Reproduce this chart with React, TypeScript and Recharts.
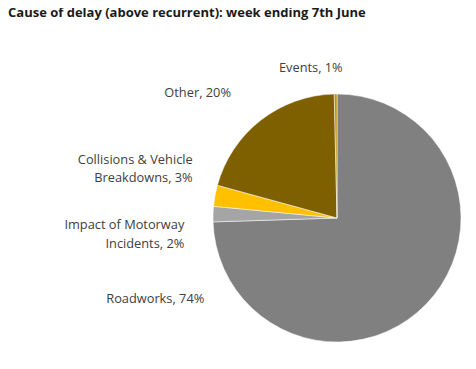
import React from "react";
import { PieChart, Pie, Cell } from "recharts";

const categories = [
  "Roadworks",
  "Impact of Motorway Incidents",
  "Collisions & Vehicle Breakdowns",
  "Other",
  "Events",
];
const shares = [74.5, 2.0, 2.75, 20.4, 0.35];
const displayedPercents = ["74%", "2%", "3%", "20%", "1%"];
const labelLines: string[][] = [
  ["Roadworks, 74%"],
  ["Impact of Motorway", "Incidents, 2%"],
  ["Collisions & Vehicle", "Breakdowns, 3%"],
  ["Other, 20%"],
  ["Events, 1%"],
];

const colors = ["#808080", "#a5a5a5", "#ffc000", "#7f6000", "#bf9000"];
// label anchor offsets (right edge, first baseline) relative to pie centre
const labelOffsets = [
  [-132.7, 84.7],
  [-152.7, 11.3],
  [-144.3, -54],
  [-106, -120.7],
  [5.7, -146],
];

const data = categories.map((name, i) => ({
  name,
  value: shares[i],
  shown: displayedPercents[i],
}));

const FONT = "'Open Sans', sans-serif";

const renderLabel = (props: any) => {
  const { cx, cy, index } = props;
  const [dx, dy] = labelOffsets[index];
  const lines = labelLines[index];
  return (
    <text
      key={`lbl-${index}`}
      x={cx + dx}
      y={cy + dy}
      textAnchor="end"
      fill="#404040"
      fontFamily={FONT}
      fontSize={12.8}
    >
      {lines.map((l, j) => (
        <tspan key={j} x={cx + dx} dy={j === 0 ? 0 : 18.4}>
          {l}
        </tspan>
      ))}
    </text>
  );
};

export default function App() {
  return (
    <div
      style={{
        position: "relative",
        width: 476,
        height: 369,
        marginLeft: -8,
        marginTop: -8,
        background: "#fff",
        overflow: "hidden",
      }}
    >
      <div
        style={{
          position: "absolute",
          left: 8,
          top: 3,
          fontFamily: FONT,
          fontWeight: 700,
          fontSize: 13,
          color: "#1a1a1a",
          whiteSpace: "nowrap",
        }}
      >
        Cause of delay (above recurrent): week ending 7th June
      </div>
      <PieChart
        width={476}
        height={369}
        margin={{ top: 0, right: 0, bottom: 0, left: 0 }}
        style={{ position: "absolute", left: 0, top: 0 }}
      >
        <Pie
          data={data}
          dataKey="value"
          nameKey="name"
          cx={337}
          cy={218}
          outerRadius={124}
          startAngle={90}
          endAngle={-270}
          stroke="#ffffff"
          strokeWidth={0.5}
          label={renderLabel}
          labelLine={false}
          isAnimationActive={false}
        >
          {data.map((d, i) => (
            <Cell key={d.name} fill={colors[i]} />
          ))}
        </Pie>
      </PieChart>
    </div>
  );
}
